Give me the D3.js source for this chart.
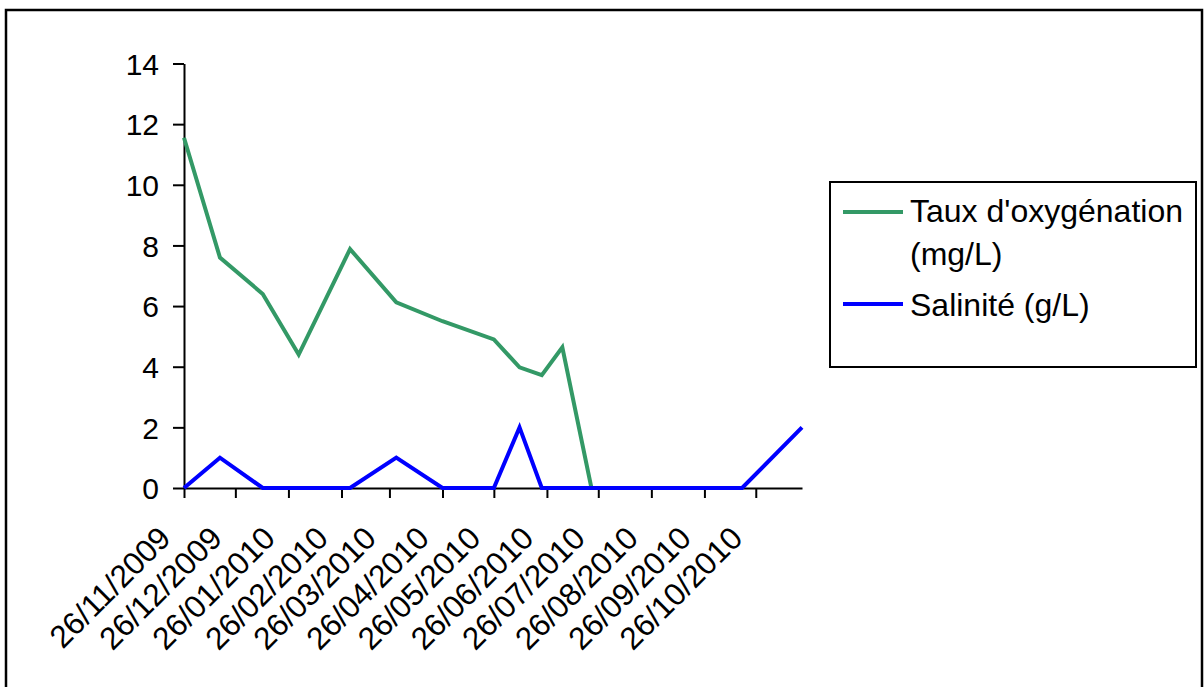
<!DOCTYPE html>
<html>
<head>
<meta charset="utf-8">
<script src="https://cdn.jsdelivr.net/npm/d3@7"></script>
<style>
  html, body { margin: 0; padding: 0; background: #fff; }
  svg { display: block; }
  text { font-family: "Liberation Sans", Arial, sans-serif; fill: #000; }
</style>
</head>
<body>
<svg id="chart" width="1204" height="687"></svg>
<script>
// ---- Data ----
const dates = ["2009-11-26","2009-12-17","2010-01-11","2010-02-01","2010-03-03","2010-03-30","2010-04-26","2010-05-26","2010-06-10","2010-06-23","2010-07-05","2010-07-22","2010-10-18","2010-11-22"];
const oxygen = [11.55, 7.6, 6.4, 4.4, 7.88, 6.12, 5.5, 4.9, 3.98, 3.72, 4.64, 0, 0, null];
const salinity = [0, 1, 0, 0, 0, 1, 0, 0, 2, 0, 0, 0, 0, 2];
const seriesNames = ["Taux d'oxygénation (mg/L)", "Salinité (g/L)"];
const tickDates = ["2009-11-26","2009-12-26","2010-01-26","2010-02-26","2010-03-26","2010-04-26","2010-05-26","2010-06-26","2010-07-26","2010-08-26","2010-09-26","2010-10-26"];
const tickLabels = ["26/11/2009","26/12/2009","26/01/2010","26/02/2010","26/03/2010","26/04/2010","26/05/2010","26/06/2010","26/07/2010","26/08/2010","26/09/2010","26/10/2010"];
const yTicks = [0, 2, 4, 6, 8, 10, 12, 14];

// ---- Layout ----
const parse = d3.utcParse("%Y-%m-%d");
const svg = d3.select("#chart");
const x0 = 184, x1 = 802, yTop = 63.5, yBot = 488;

// outer frame
svg.append("rect").attr("x", 6).attr("y", 10).attr("width", 1196).attr("height", 700)
  .attr("fill", "none").attr("stroke", "#000").attr("stroke-width", 2.5);

const x = d3.scaleUtc().domain([parse(dates[0]), parse(dates[dates.length - 1])]).range([x0, x1]);
const y = d3.scaleLinear().domain([0, 14]).range([yBot, yTop]);

// Y axis
const yAxis = svg.append("g").attr("transform", `translate(${x0},0)`)
  .call(d3.axisLeft(y).tickValues(yTicks).tickSize(11).tickPadding(14).tickSizeOuter(0).tickFormat(d3.format("d")));
yAxis.select(".domain").attr("stroke", "#000").attr("stroke-width", 2);
yAxis.selectAll(".tick line").attr("stroke", "#000").attr("stroke-width", 2);
yAxis.selectAll(".tick text").attr("font-size", 30).attr("font-family", "Liberation Sans, Arial, sans-serif").attr("dy", "0.36em");

// X axis
const tickD = tickDates.map(parse);
const xAxis = svg.append("g").attr("transform", `translate(0,${yBot})`)
  .call(d3.axisBottom(x).tickValues(tickD).tickSize(10).tickSizeOuter(0).tickFormat((d, i) => tickLabels[i]));
xAxis.select(".domain").attr("stroke", "#000").attr("stroke-width", 2);
xAxis.selectAll(".tick line").attr("stroke", "#000").attr("stroke-width", 2);
xAxis.selectAll(".tick text")
  .attr("font-size", 31.5).attr("font-family", "Liberation Sans, Arial, sans-serif")
  .attr("text-anchor", "end")
  .attr("x", 0).attr("y", 0).attr("dy", 0)
  .attr("transform", "translate(-12,52) rotate(-45)");

// Lines
const rows = dates.map((d, i) => ({ date: parse(d), ox: oxygen[i], sal: salinity[i] }));
const lineOx = d3.line().defined(d => d.ox != null).x(d => x(d.date)).y(d => y(d.ox));
const lineSal = d3.line().defined(d => d.sal != null).x(d => x(d.date)).y(d => y(d.sal));
const colors = ["#339966", "#0000ff"];

svg.append("path").datum(rows).attr("d", lineOx).attr("fill", "none")
  .attr("stroke", colors[0]).attr("stroke-width", 4).attr("stroke-linejoin", "miter");
svg.append("path").datum(rows).attr("d", lineSal).attr("fill", "none")
  .attr("stroke", colors[1]).attr("stroke-width", 4).attr("stroke-linejoin", "miter");

// Legend
const lg = svg.append("g");
lg.append("rect").attr("x", 830).attr("y", 182).attr("width", 366).attr("height", 185)
  .attr("fill", "#fff").attr("stroke", "#000").attr("stroke-width", 2);
lg.append("line").attr("x1", 843).attr("x2", 903).attr("y1", 212).attr("y2", 212)
  .attr("stroke", colors[0]).attr("stroke-width", 4);
lg.append("line").attr("x1", 843).attr("x2", 903).attr("y1", 304).attr("y2", 304)
  .attr("stroke", colors[1]).attr("stroke-width", 4);
const t1 = lg.append("text").attr("x", 910).attr("y", 222).attr("font-size", 32);
t1.append("tspan").attr("x", 910).attr("y", 222).text("Taux d'oxygénation");
t1.append("tspan").attr("x", 910).attr("y", 265).text("(mg/L)");
lg.append("text").attr("x", 910).attr("y", 316).attr("font-size", 32).text(seriesNames[1]);
</script>
</body>
</html>
